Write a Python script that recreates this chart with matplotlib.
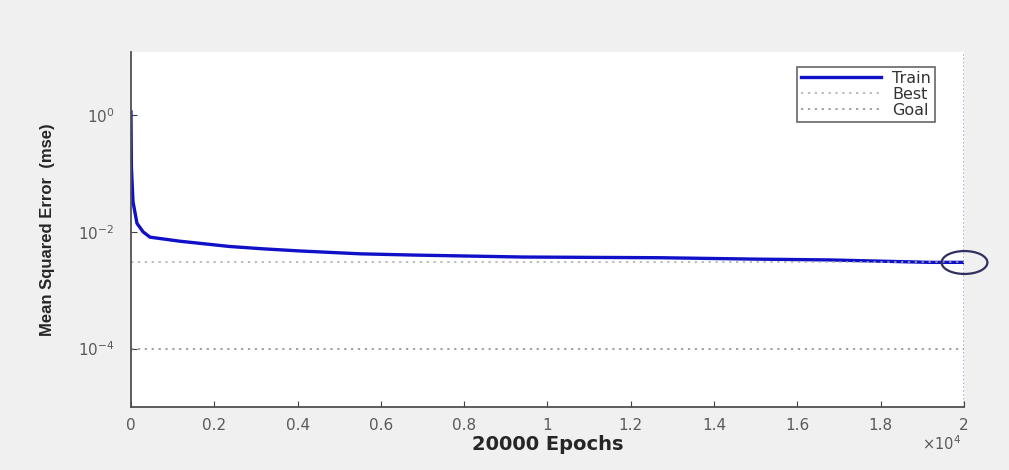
import matplotlib
matplotlib.use("Agg")
import matplotlib.pyplot as plt
import matplotlib.path as mpath
from matplotlib.transforms import Affine2D

# training record
epochs = [0, 10, 48, 144, 290, 456, 1176, 2376, 3200, 4056, 5496, 6770, 9410,
          12700, 15100, 16780, 19180, 20000]
train_mse = [1.13, 0.13, 0.033, 0.014, 0.0100, 0.0081, 0.0069, 0.0056, 0.0051,
             0.0047, 0.0042, 0.0040, 0.0037, 0.0036, 0.0034, 0.0033, 0.0030, 0.0030]
best_epoch = 20000
best_mse = 0.0030
goal_mse = 1e-4
xticks = [0, 2000, 4000, 6000, 8000, 10000, 12000, 14000, 16000, 18000, 20000]
xticklabels = ['0', '0.2', '0.4', '0.6', '0.8', '1', '1.2', '1.4', '1.6', '1.8', '2']
yticks = [1e0, 1e-2, 1e-4]
yticklabels = ['$10^{0}$', '$10^{-2}$', '$10^{-4}$']


def main():
    plt.rcParams['font.family'] = ['DejaVu Sans']
    plt.rcParams['mathtext.fontset'] = 'dejavusans'
    fig = plt.figure(figsize=(10.09, 4.70), dpi=100, facecolor='#f0f0f0')
    ax = fig.add_axes([0.1298, 0.134, 0.8256, 0.7554])
    ax.set_facecolor('white')

    ax.semilogy(epochs, train_mse, color='#1010c8', lw=2.4, label='Train')
    ax.axhline(best_mse, color='#a8a8a8', lw=1.1, ls=(0, (1.5, 3)), label='Best')
    ax.axhline(goal_mse, color='#8a8a8a', lw=1.1, ls=(0, (1.5, 3)), label='Goal')
    ax.axvline(best_epoch, color='#9090c0', lw=1.1, ls=(0, (1, 1.5)))

    ellipse = mpath.Path.unit_circle().transformed(Affine2D().scale(1, 0.5))
    ax.plot([best_epoch], [best_mse], marker=ellipse, markersize=33,
            markerfacecolor='none', markeredgecolor='#303060', markeredgewidth=1.6,
            clip_on=False, zorder=5)

    ax.set_xlim(0, 20000)
    ax.set_ylim(1e-5, 1.2e1)
    ax.set_xticks(xticks)
    ax.set_xticklabels(xticklabels)
    ax.set_yticks(yticks)
    ax.set_yticklabels(yticklabels)
    ax.minorticks_off()
    ax.tick_params(direction='in', length=4, colors='#404040', labelsize=11,
                   labelcolor='#5a5a5a')
    ax.tick_params(axis='x', pad=8)
    ax.tick_params(axis='y', pad=12)

    ax.spines['top'].set_visible(False)
    ax.spines['right'].set_visible(False)
    ax.spines['left'].set_color('#505050')
    ax.spines['bottom'].set_color('#505050')
    ax.spines['left'].set_linewidth(1.3)
    ax.spines['bottom'].set_linewidth(1.3)

    ax.set_xlabel('20000 Epochs', fontsize=14, fontweight='bold', color='#262626',
                  labelpad=1)
    ax.set_ylabel('Mean Squared Error  (mse)', fontsize=12, fontweight='bold',
                  color='#262626', labelpad=16,
                  family=['Liberation Sans', 'DejaVu Sans'])
    fig.text(0.952, 0.055, r'$\times10^{4}$', fontsize=10.5, color='#5a5a5a',
             ha='right', va='center')

    leg = ax.legend(loc='upper right', bbox_to_anchor=(0.975, 0.98), fontsize=11.5,
                    frameon=True, fancybox=False, handlelength=5.0,
                    borderpad=0.25, labelspacing=0.05, handletextpad=0.7)
    leg.get_frame().set_edgecolor('#404040')
    leg.get_frame().set_linewidth(1.2)
    for t in leg.get_texts():
        t.set_color('#333333')

    fig.savefig('out.png', dpi=100, facecolor=fig.get_facecolor())


if __name__ == "__main__":
    main()
